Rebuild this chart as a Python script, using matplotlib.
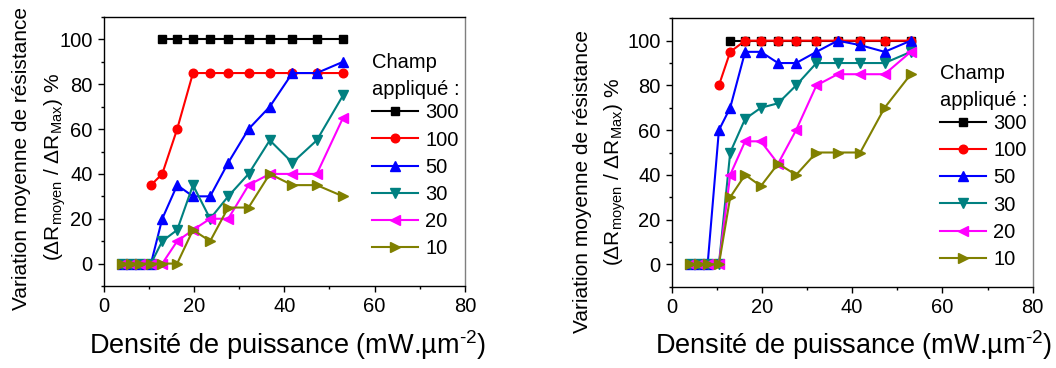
import matplotlib
matplotlib.use("Agg")
import matplotlib.pyplot as plt
from matplotlib.ticker import MultipleLocator

plt.rcParams['font.family'] = ['Liberation Sans', 'DejaVu Sans']
plt.rcParams['mathtext.fontset'] = 'custom'
plt.rcParams['mathtext.rm'] = 'Liberation Sans'
plt.rcParams['mathtext.it'] = 'Liberation Sans:italic'
plt.rcParams['mathtext.bf'] = 'Liberation Sans:bold'

# ---------------- data ----------------
x_all = [4, 6, 8, 10.5, 13, 16.3, 19.8, 23.6, 27.6, 32.1, 36.8, 41.8, 47.2, 53]
fields = ['300', '100', '50', '30', '20', '10']
colors = ['#000000', '#FF0000', '#0000FF', '#008080', '#FF00FF', '#808000']
markers = ['s', 'o', '^', 'v', '<', '>']

# left panel
left_x = {
    '300': x_all[4:],
    '100': x_all[3:],
    '50': x_all,
    '30': x_all,
    '20': x_all,
    '10': x_all,
}
left_y = {
    '300': [100, 100, 100, 100, 100, 100, 100, 100, 100, 100],
    '100': [35, 40, 60, 85, 85, 85, 85, 85, 85, 85, 85],
    '50': [0, 0, 0, 0, 20, 35, 30, 30, 45, 60, 70, 85, 85, 90],
    '30': [0, 0, 0, 0, 10, 15, 35, 20, 30, 40, 55, 45, 55, 75],
    '20': [0, 0, 0, 0, 0, 10, 15, 20, 20, 35, 40, 40, 40, 65],
    '10': [0, 0, 0, 0, 0, 0, 15, 10, 25, 25, 40, 35, 35, 30],
}

# right panel
right_x = {
    '300': x_all[4:],
    '100': x_all[3:],
    '50': x_all,
    '30': x_all,
    '20': x_all,
    '10': x_all,
}
right_y = {
    '300': [100, 100, 100, 100, 100, 100, 100, 100, 100, 100],
    '100': [80, 95, 100, 100, 100, 100, 100, 100, 100, 100, 100],
    '50': [0, 0, 0, 60, 70, 95, 95, 90, 90, 95, 100, 98, 95, 100],
    '30': [0, 0, 0, 0, 50, 65, 70, 72, 80, 90, 90, 90, 90, 95],
    '20': [0, 0, 0, 0, 40, 55, 55, 45, 60, 80, 85, 85, 85, 95],
    '10': [0, 0, 0, 0, 30, 40, 35, 45, 40, 50, 50, 50, 70, 85],
}

ylabel1 = "Variation moyenne de résistance"
ylabel2 = r"($\Delta$R$_{\mathrm{moyen}}$ / $\Delta$R$_{\mathrm{Max}}$) %"
xlabel = r"Densité de puissance (mW.µm$^{\text{-2}}$)"
legend_title = "Champ\nappliqué :"

W, H = 1056, 368
fig = plt.figure(figsize=(W / 100, H / 100), dpi=100)

def px_rect(l, t, r, b):
    return [l / W, 1 - b / H, (r - l) / W, (b - t) / H]

ax1 = fig.add_axes(px_rect(103.5, 17, 465, 286))
ax2 = fig.add_axes(px_rect(671.5, 18.3, 1032.7, 286.7))

msizes = {'s': 5.5, 'o': 6.2, '^': 6.8, 'v': 6.8, '<': 6.8, '>': 6.8}
FS = 14.5

def draw(ax, xs, ys, leg_anchor):
    for f, c, m in zip(fields, colors, markers):
        ax.plot(xs[f], ys[f], color=c, marker=m, ms=msizes[m], lw=1.5,
                label=f, mec=c, mfc=c)
    ax.set_xlim(0, 80)
    ax.set_ylim(-10, 110)
    ax.xaxis.set_major_locator(MultipleLocator(20))
    ax.xaxis.set_minor_locator(MultipleLocator(10))
    ax.yaxis.set_major_locator(MultipleLocator(20))
    ax.yaxis.set_minor_locator(MultipleLocator(10))
    ax.set_yticks([0, 20, 40, 60, 80, 100])
    ax.tick_params(which='major', direction='out', length=4.5, width=1,
                   labelsize=FS, pad=3.5)
    ax.tick_params(which='minor', direction='out', length=2.5, width=1)
    for s in ['left', 'bottom', 'top']:
        ax.spines[s].set_color('black')
        ax.spines[s].set_linewidth(1)
    ax.spines['right'].set_color('#7f7f7f')
    ax.spines['right'].set_linewidth(1)
    leg = ax.legend(loc='upper left', bbox_to_anchor=leg_anchor,
                    frameon=False, title=legend_title, fontsize=FS,
                    title_fontsize=FS, alignment='left', borderpad=0,
                    borderaxespad=0, handlelength=2.3, handletextpad=0.35,
                    labelspacing=0.40)
    leg.get_title().set_linespacing(1.55)
    leg._legend_box.sep = 3

draw(ax1, left_x, left_y, (0.743, 0.866))
draw(ax2, right_x, right_y, (0.743, 0.83))

def fpx(x, y):
    return x / W, 1 - y / H

# y labels
fig.text(*fpx(22, 159), ylabel1, rotation=90, ha='center', va='center', fontsize=15)
fig.text(*fpx(55, 167), ylabel2, rotation=90, ha='center', va='center', fontsize=15)
fig.text(*fpx(582, 181.5), ylabel1, rotation=90, ha='center', va='center', fontsize=15)
fig.text(*fpx(615, 172), ylabel2, rotation=90, ha='center', va='center', fontsize=15)

# x labels
fig.text(*fpx(288, 345), xlabel, ha='center', va='center', fontsize=19.5)
fig.text(*fpx(853.5, 345), xlabel, ha='center', va='center', fontsize=19.5)

fig.savefig('out.png', dpi=100)
